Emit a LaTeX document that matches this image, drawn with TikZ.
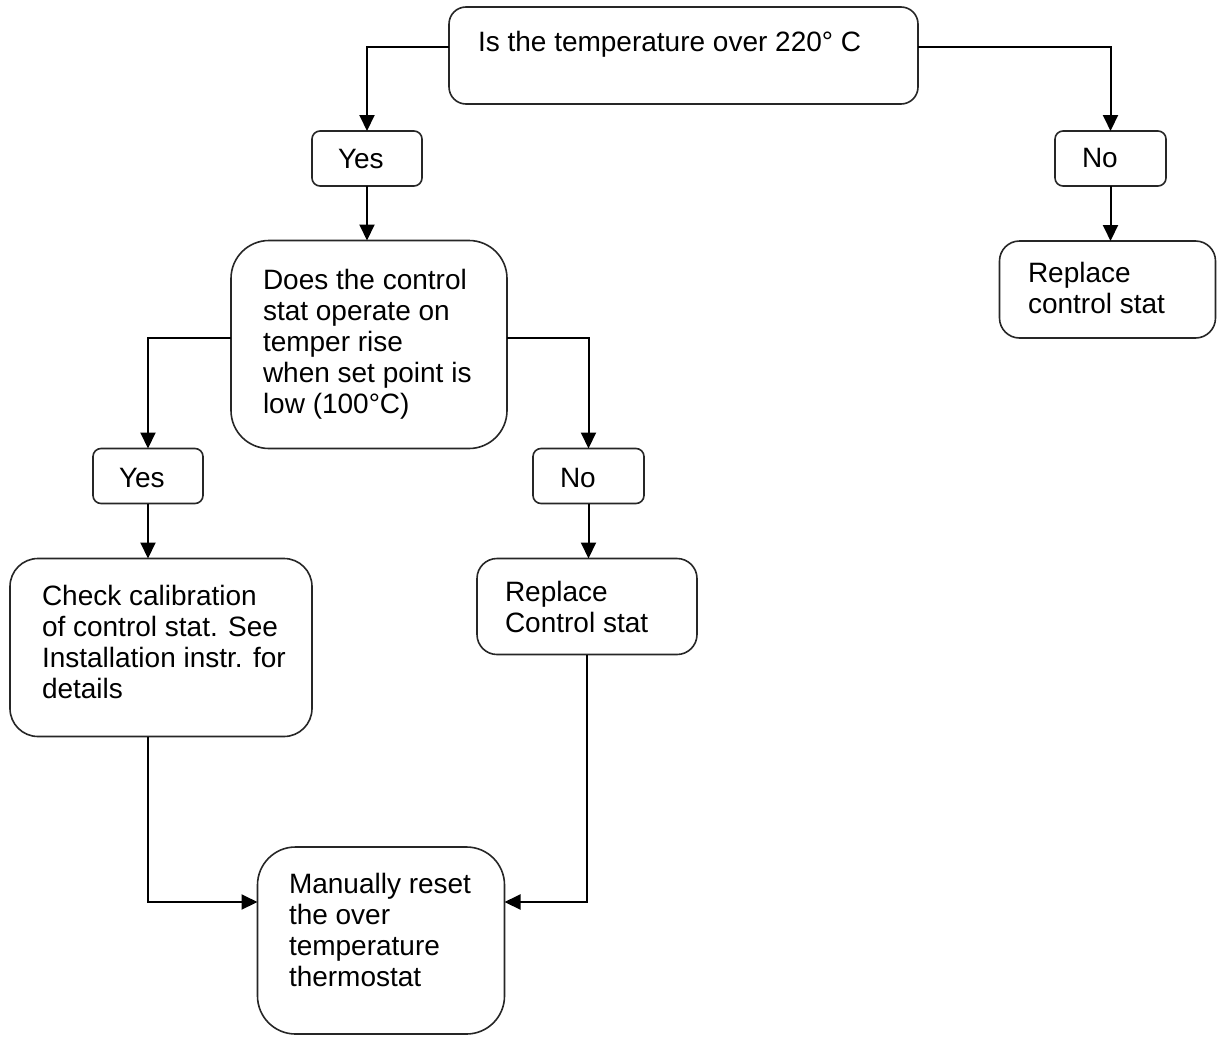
\documentclass[tikz,border=0pt]{standalone}
\usepackage{fontspec}
\setmainfont{Liberation Sans}
\usetikzlibrary{arrows.meta,calc}
\begin{document}
\begin{tikzpicture}[x=1pt,y=-1pt,
  box/.style={draw=black!85,line width=1.6pt,inner sep=0pt,outer sep=0pt,fill=white},
  txt/.style={inner sep=0pt,outer sep=0pt,align=left,font=\fontsize{28pt}{31pt}\selectfont},
  arr/.style={line width=2pt,-{Triangle[length=16pt,width=15pt]}},
]
\useasboundingbox (0,0) rectangle (1217,1036);
% boxes
\node[box,rounded corners=17pt,minimum width=469pt,minimum height=97pt] (top) at (683.5,55.5) {};
\node[box,rounded corners=8pt,minimum width=110pt,minimum height=55pt] (yes1) at (367,158.5) {};
\node[box,rounded corners=8pt,minimum width=111pt,minimum height=55pt] (no1) at (1110.5,158.5) {};
\node[box,rounded corners=20pt,minimum width=216pt,minimum height=97pt] (rep1) at (1107.5,289.5) {};
\node[box,rounded corners=38pt,minimum width=276pt,minimum height=208pt] (does) at (369,344.5) {};
\node[box,rounded corners=8pt,minimum width=110pt,minimum height=55pt] (yes2) at (148,476) {};
\node[box,rounded corners=8pt,minimum width=111pt,minimum height=55pt] (no2) at (588.5,476) {};
\node[box,rounded corners=28pt,minimum width=302pt,minimum height=178pt] (check) at (161,647.5) {};
\node[box,rounded corners=20pt,minimum width=220pt,minimum height=96pt] (rep2) at (587,606.5) {};
\node[box,rounded corners=38pt,minimum width=247pt,minimum height=187pt] (manual) at (381,940.5) {};
% texts (anchor = baseline of the last line)
\node[txt,anchor=base west] (toptxt) at (478,51) {Is the temperature over 220° C};
\node[txt,anchor=base west] (yes1txt) at (338,168) {Yes};
\node[txt,anchor=base west] (no1txt) at (1082,167) {No};
\node[txt,anchor=base west] (rep1txt) at (1028,313) {Replace\\control stat};
\node[txt,anchor=base west] (doestxt) at (263,413) {Does the control\\stat operate on\\temper rise\\when set point is\\low (100°C)};
\node[txt,anchor=base west] (yes2txt) at (119,487) {Yes};
\node[txt,anchor=base west] (no2txt) at (560,487) {No};
\node[txt,anchor=base west] (checktxt) at (42,698) {Check calibration\\of control stat. See\\Installation instr. for\\details};
\node[txt,anchor=base west] (rep2txt) at (505,632) {Replace\\Control stat};
\node[txt,anchor=base west] (mantxt) at (289,986) {Manually reset\\the over\\temperature\\thermostat};
% connectors
\coordinate (topL) at ([yshift=8.5pt]top.west);
\coordinate (topR) at ([yshift=8.5pt]top.east);
\coordinate (doesL) at ([yshift=6.5pt]does.west);
\coordinate (doesR) at ([yshift=6.5pt]does.east);
\coordinate (manL) at ([yshift=38.5pt]manual.west);
\coordinate (manR) at ([yshift=38.5pt]manual.east);
\draw[arr] (topL) -| (yes1.north);
\draw[arr] (topR) -| (no1.north);
\draw[arr] (yes1.south) -- (yes1.south |- does.north);
\draw[arr] (no1.south) -- (no1.south |- rep1.north);
\draw[arr] (doesL) -| (yes2.north);
\draw[arr] (doesR) -| (no2.north);
\draw[arr] (yes2.south) -- (yes2.south |- check.north);
\draw[arr] (no2.south) -- (no2.south |- rep2.north);
\draw[arr] (yes2.south |- check.south) |- (manL);
\draw[arr] (rep2.south) |- (manR);
\end{tikzpicture}
\end{document}
